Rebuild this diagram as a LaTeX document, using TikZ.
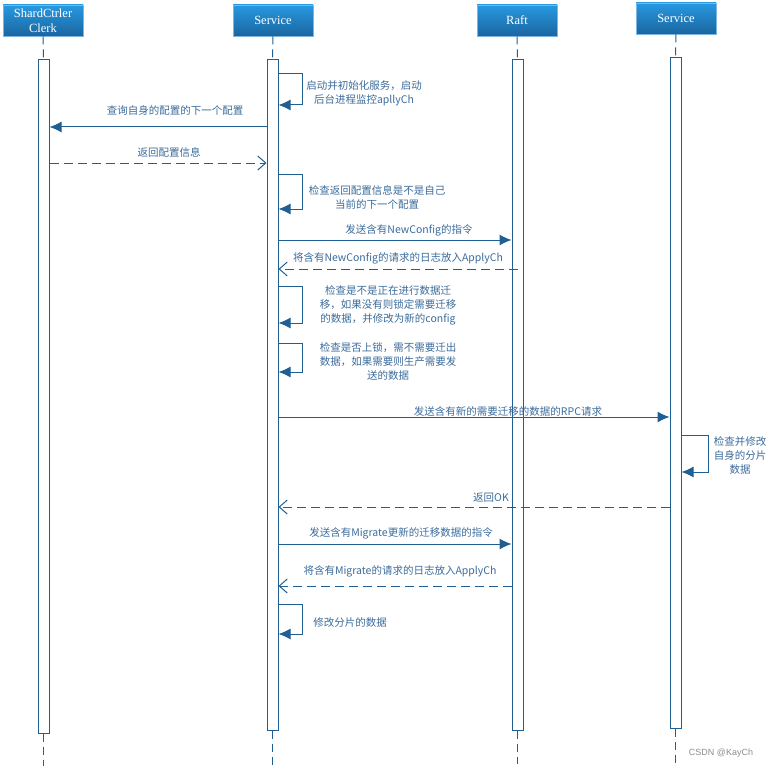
\documentclass[tikz,border=0pt]{standalone}
\usepackage{fontspec}
\setmainfont{Liberation Serif}
\newfontfamily\cjk{Noto Sans CJK SC}
\newfontfamily\wmfont{Liberation Sans}
\usetikzlibrary{arrows.meta}
\definecolor{ln}{HTML}{1F5F94}
\definecolor{tx}{HTML}{3B6B9B}
\definecolor{hdtop}{HTML}{2898E0}
\definecolor{hdbot}{HTML}{1A66A0}
\definecolor{hdedge}{HTML}{7DB6E2}
\begin{document}
\begin{tikzpicture}[x=1pt,y=-1pt,
  hdr/.style={draw=hdedge, line width=0.8pt, top color=hdtop, bottom color=hdbot, text=white,
    font=\fontsize{12.5}{15}\selectfont, minimum width=80pt, minimum height=31pt, inner sep=0pt, align=center},
  actbar/.style={draw=ln, line width=1pt, fill=white, minimum width=11pt, inner sep=0pt},
  life/.style={draw=ln, line width=1pt, dash pattern=on 8pt off 5pt},
  msg/.style={draw=ln, line width=1pt, -{Latex[length=12pt,width=11pt]}},
  ret/.style={draw=ln, line width=1pt, dash pattern=on 9pt off 5pt, -{Straight Barb[length=8pt,width=14pt]}},
  lbl/.style={text=tx, font=\cjk\fontsize{10.5}{14}\selectfont, inner sep=0pt, align=center},
]
\useasboundingbox (0,0) rectangle (772,768);

% headers
\node[hdr] (hC) at (43,20.5) {ShardCtrler\\Clerk};
\node[hdr] (hS) at (273,20.5) {Service};
\node[hdr] (hR) at (517,20.5) {Raft};
\node[hdr] (hT) at (676,18.5) {Service};

% activation bars
\node[actbar, minimum height=673pt] (aC) at (43.5,396.5) {};
\node[actbar, minimum height=670pt] (aS) at (272.5,395) {};
\node[actbar, minimum height=670pt] (aR) at (517.5,395) {};
\node[actbar, minimum height=670pt] (aT) at (675.5,393) {};

% lifelines
\coordinate (eC) at (43.5,766);
\coordinate (eS) at (272.5,766);
\coordinate (eR) at (517.5,764);
\coordinate (eT) at (675.5,764);
\draw[life] (hC.south) -- (aC.north);
\draw[life] (hS.south) -- (aS.north);
\draw[life] (hR.south) -- (aR.north);
\draw[life] (hT.south) -- (aT.north);
\draw[life] (aC.south) -- (eC);
\draw[life] (aS.south) -- (eS);
\draw[life] (aR.south) -- (eR);
\draw[life] (aT.south) -- (eT);

% self loop 1
\draw[msg] (aS.east |- 0,74) -- ++(24,0) |- (aS.east |- 0,105);
\node[lbl] (t1) at (364,93) {启动并初始化服务，启动\\后台进程监控apllyCh};

% query
\draw[msg] (aS.west |- 0,127) -- (aC.east |- 0,127);
\node[lbl] (t2) at (175,111) {查询自身的配置的下一个配置};

% return config
\draw[ret] (aC.east |- 0,163) -- (aS.west |- 0,163);
\node[lbl] (t3) at (169,152) {返回配置信息};

% self loop 2
\draw[msg] (aS.east |- 0,174) -- ++(24,0) |- (aS.east |- 0,209);
\node[lbl] (t4) at (377,197) {检查返回配置信息是不是自己\\当前的下一个配置};

% NewConfig
\draw[msg] (aS.east |- 0,240) -- (aR.west |- 0,240);
\node[lbl] (t5) at (409,230) {发送含有NewConfig的指令};
\draw[ret] (aR.center |- 0,269) -- (aS.east |- 0,269);
\node[lbl] (t6) at (398,258) {将含有NewConfig的请求的日志放入ApplyCh};

% self loop 3
\draw[msg] (aS.east |- 0,286) -- ++(24,0) |- (aS.east |- 0,323);
\node[lbl] (t7) at (388,305) {检查是不是正在进行数据迁\\移，如果没有则锁定需要迁移\\的数据，并修改为新的config};

% self loop 4
\draw[msg] (aS.east |- 0,343) -- ++(24,0) |- (aS.east |- 0,372);
\node[lbl] (t8) at (388,361) {检查是否上锁，需不需要迁出\\数据，如果需要则生产需要发\\送的数据};

% RPC
\draw[msg] (aS.east |- 0,417) -- (aT.west |- 0,417);
\node[lbl] (t9) at (508,412) {发送含有新的需要迁移的数据的RPC请求};

% self loop 5
\draw[msg] (aT.east |- 0,435) -- ++(27,0) |- (aT.east |- 0,472);
\node[lbl] (t10) at (740,455) {检查并修改\\自身的分片\\数据};

% return OK
\draw[ret] (aT.west |- 0,507) -- (aS.east |- 0,507);
\node[lbl] (t11) at (491,498) {返回OK};

% Migrate
\draw[msg] (aS.east |- 0,544) -- (aR.west |- 0,544);
\node[lbl] (t12) at (401,533) {发送含有Migrate更新的迁移数据的指令};
\draw[ret] (aR.west |- 0,586) -- (aS.east |- 0,586);
\node[lbl] (t13) at (400,571) {将含有Migrate的请求的日志放入ApplyCh};

% self loop 6
\draw[msg] (aS.east |- 0,604) -- ++(24,0) |- (aS.east |- 0,634);
\node[lbl] (t14) at (350,623) {修改分片的数据};

% watermark
\node[text=black!45, font=\wmfont\fontsize{9}{11}\selectfont, inner sep=0pt] (wm) at (721,753) {CSDN @KayCh};
\end{tikzpicture}
\end{document}
